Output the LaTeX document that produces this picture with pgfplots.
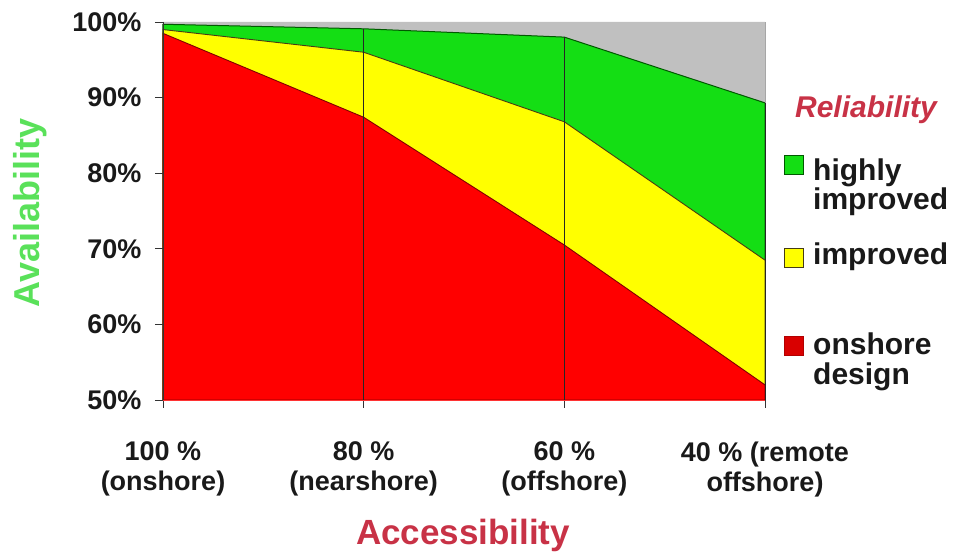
\documentclass[border=0pt]{standalone}
\usepackage{fontspec}
\setmainfont{Liberation Sans}
\usepackage{pgfplots}
\pgfplotsset{compat=1.18}
\definecolor{cgreen}{RGB}{20,222,20}
\definecolor{cyellow}{RGB}{255,255,0}
\definecolor{cred}{RGB}{255,0,0}
\definecolor{cgray}{RGB}{192,192,192}
\definecolor{labgreen}{RGB}{90,225,90}
\definecolor{labred}{RGB}{200,50,70}
\definecolor{edge}{RGB}{70,60,20}
\definecolor{txt}{RGB}{25,25,25}
\begin{document}
\begin{tikzpicture}[x=1pt,y=1pt]
\begin{axis}[name=ax, at={(0,0)}, anchor=south west,
  scale only axis, width=602pt, height=378pt,
  xmin=0, xmax=3, ymin=50, ymax=100,
  axis x line*=bottom, axis y line*=left,
  axis line style={-},
  y axis line style={draw=black!80, line width=0.9pt},
  x axis line style={draw=cred!80, line width=0.6pt},
  xtick={0,1,2,3},
  xticklabels={{100 \%\\(onshore)},{80 \%\\(nearshore)},{60 \%\\(offshore)},{40 \% (remote\\offshore)}},
  ytick={50,60,70,80,90,100},
  yticklabels={50\%,60\%,70\%,80\%,90\%,100\%},
  xtick pos=bottom, ytick pos=left,
  xtick align=outside, ytick align=outside, major tick length=8pt,
  xtick style={draw=black!80, line width=0.8pt},
  ytick style={draw=black!80, line width=0.8pt},
  yticklabel style={font=\fontsize{27}{30}\selectfont\bfseries, text=txt, xshift=-10pt},
  xticklabel style={font=\fontsize{27}{30}\selectfont\bfseries, text=txt, align=center, yshift=-30pt},
  clip=false, axis on top,
]
% gray background (remaining up to 100%)
\addplot[fill=cgray, draw=none] coordinates {(0,100) (1,100) (2,100) (3,100)} \closedcycle;
% highly improved (green) top
\addplot[fill=cgreen, draw=green!35!black, line width=1pt] coordinates {(0,99.7) (1,99.1) (2,98.0) (3,89.3)} \closedcycle;
% improved (yellow) top
\addplot[fill=cyellow, draw=edge, line width=0.9pt] coordinates {(0,99.0) (1,96.0) (2,86.8) (3,68.5)} \closedcycle;
% onshore design (red)
\addplot[fill=cred, draw=red!50!black, line width=0.9pt] coordinates {(0,98.5) (1,87.4) (2,70.5) (3,52.0)} \closedcycle;
% vertical category lines
\addplot[black!85, line width=0.8pt] coordinates {(1,50) (1,99.1)};
\addplot[black!85, line width=0.8pt] coordinates {(2,50) (2,98.0)};
\addplot[black!85, line width=0.9pt] coordinates {(3,50) (3,89.3)};
\addplot[black!35, line width=0.8pt] coordinates {(3,89.3) (3,100)};
\end{axis}
% axis titles
\node[rotate=90, text=labgreen, font=\fontsize{36}{40}\selectfont\bfseries, inner sep=0pt] at (-133,187) {Availability};
\node[text=labred, font=\fontsize{35}{40}\selectfont\bfseries, inner sep=0pt, anchor=base] at (300,-145) {Accessibility};
% legend
\node[text=labred, font=\fontsize{30}{34}\selectfont\bfseries\itshape, inner sep=0pt, anchor=base] at (703,282) {Reliability};
\node[fill=cgreen, draw=green!35!black, line width=0.8pt, minimum size=19pt, inner sep=0pt] at (630.5,235.5) {};
\node[fill=cyellow, draw=edge, line width=0.8pt, minimum size=19pt, inner sep=0pt] at (630.5,142) {};
\node[fill=red!85!black, draw=red!70!black, line width=0.8pt, minimum size=19pt, inner sep=0pt] at (630.5,54) {};
\begin{scope}[every node/.style={text=txt, font=\fontsize{30}{34}\selectfont\bfseries, inner sep=0pt, anchor=base west}]
\node at (650,219) {highly};
\node at (650,190) {improved};
\node at (650,135) {improved};
\node at (650,45) {onshore};
\node at (650,15) {design};
\end{scope}
\pgfresetboundingbox
\path (-163,-156) rectangle (793,378+22);
\end{tikzpicture}
\end{document}
